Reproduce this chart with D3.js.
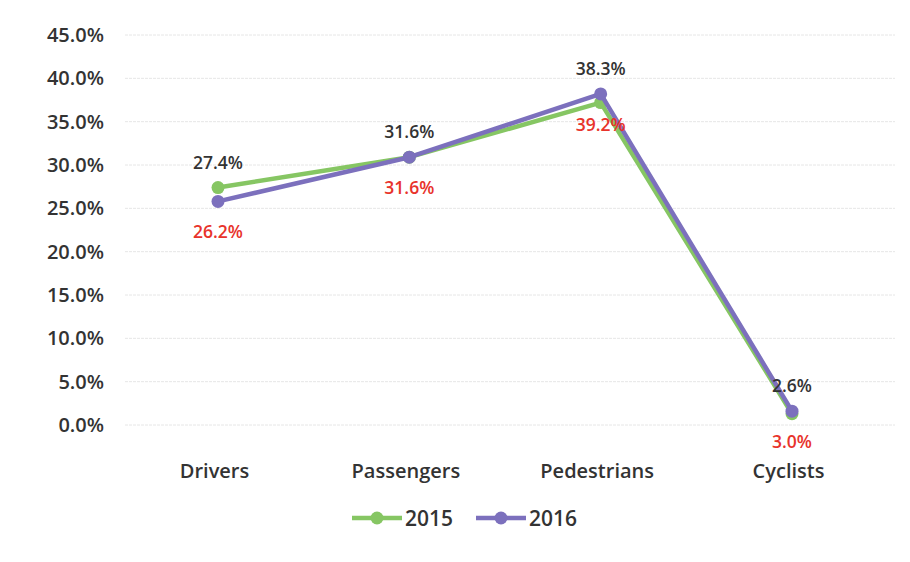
<!DOCTYPE html>
<html>
<head>
<meta charset="utf-8">
<script src="https://cdn.jsdelivr.net/npm/d3@7/dist/d3.min.js"></script>
<style>
  html, body { margin: 0; padding: 0; background: #ffffff; }
  svg { display: block; }
  text { font-family: "Open Sans", "DejaVu Sans", sans-serif; }
</style>
</head>
<body>
<svg id="chart" width="910" height="562"></svg>
<script>
// ---- data ----
const categories = ["Drivers", "Passengers", "Pedestrians", "Cyclists"];
const values2015 = [0.274, 0.309, 0.372, 0.013];
const values2016 = [0.258, 0.309, 0.382, 0.016];
const labelsTop = ["27.4%", "31.6%", "38.3%", "2.6%"];
const labelsBottom = ["26.2%", "31.6%", "39.2%", "3.0%"];
const yTicks = [0, 0.05, 0.10, 0.15, 0.20, 0.25, 0.30, 0.35, 0.40, 0.45];
const seriesNames = ["2015", "2016"];

const colors = { "2015": "#86c663", "2016": "#7c70bd" };

const svg = d3.select("#chart");

const y = d3.scaleLinear().domain([0, 0.45]).range([425, 35]);
const x = d3.scalePoint().domain(categories).range([218, 792]);

// gridlines
svg.append("g")
  .selectAll("line")
  .data(yTicks)
  .join("line")
  .attr("x1", 125).attr("x2", 895)
  .attr("y1", d => y(d)).attr("y2", d => y(d))
  .attr("stroke", "#e6e6e6")
  .attr("stroke-width", 1)
  .attr("stroke-dasharray", "3,1");

// y axis
const yAxis = d3.axisLeft(y).tickValues(yTicks).tickFormat(d3.format(".1%")).tickSize(0).tickPadding(0);
const gy = svg.append("g").attr("transform", "translate(104,0)").call(yAxis);
gy.select(".domain").remove();
gy.selectAll("text")
  .attr("fill", "#333")
  .style("font-size", "20px")
  .style("font-weight", "600");

// x axis
const xAxis = d3.axisBottom(x).tickSize(0).tickPadding(0);
const gx = svg.append("g").attr("transform", "translate(-4,464)").call(xAxis);
gx.select(".domain").remove();
gx.selectAll("text")
  .attr("fill", "#333")
  .style("font-size", "20px")
  .style("font-weight", "600");

const series = [
  { name: "2015", values: values2015 },
  { name: "2016", values: values2016 }
];

const line = d3.line()
  .x((d, i) => x(categories[i]))
  .y(d => y(d));

series.forEach(s => {
  svg.append("path")
    .datum(s.values)
    .attr("d", line)
    .attr("fill", "none")
    .attr("stroke", colors[s.name])
    .attr("stroke-width", 4.5)
    .attr("stroke-linejoin", "round");
  svg.append("g")
    .selectAll("circle")
    .data(s.values)
    .join("circle")
    .attr("cx", (d, i) => x(categories[i]))
    .attr("cy", d => y(d))
    .attr("r", 6.5)
    .attr("fill", colors[s.name]);
});

// data labels
svg.append("g")
  .selectAll("text")
  .data(labelsTop)
  .join("text")
  .attr("x", (d, i) => x(categories[i]))
  .attr("y", (d, i) => Math.min(y(values2015[i]), y(values2016[i])) - 19)
  .attr("text-anchor", "middle")
  .attr("fill", "#333")
  .style("font-size", "17.5px")
  .style("font-weight", "600")
  .text(d => d);

svg.append("g")
  .selectAll("text")
  .data(labelsBottom)
  .join("text")
  .attr("x", (d, i) => x(categories[i]))
  .attr("y", (d, i) => y(values2016[i]) + 37)
  .attr("text-anchor", "middle")
  .attr("fill", "#e8332b")
  .style("font-size", "17.5px")
  .style("font-weight", "600")
  .text(d => d);

// legend
const legendX = [352, 476];
const leg = svg.append("g");
series.forEach((s, i) => {
  const g = leg.append("g").attr("transform", `translate(${legendX[i]},518)`);
  g.append("line").attr("x1", 0).attr("x2", 50).attr("y1", 0).attr("y2", 0)
    .attr("stroke", colors[s.name]).attr("stroke-width", 4.5);
  g.append("circle").attr("cx", 25).attr("cy", 0).attr("r", 6.5).attr("fill", colors[s.name]);
  g.append("text").attr("x", 53).attr("y", 8)
    .attr("fill", "#333")
    .style("font-size", "21px")
    .style("font-weight", "600")
    .text(seriesNames[i]);
});
</script>
</body>
</html>
